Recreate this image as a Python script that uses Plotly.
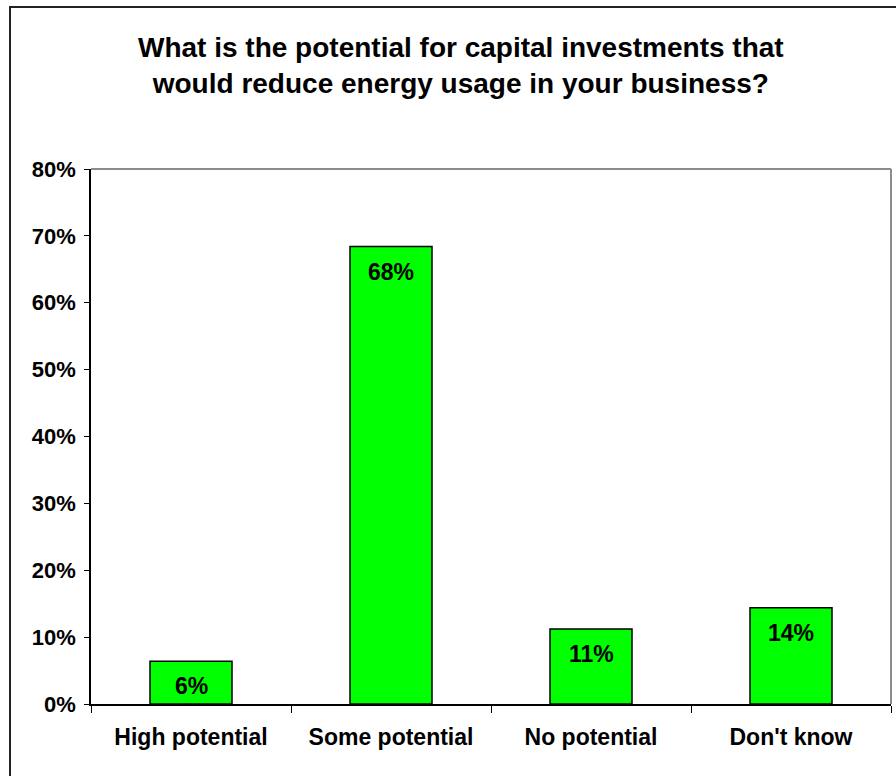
import plotly.graph_objects as go

# Survey responses: share of businesses by perceived potential
categories = ["High potential", "Some potential", "No potential", "Don't know"]
shares = [0.064, 0.684, 0.112, 0.144]
y_ticks = [0, 0.1, 0.2, 0.3, 0.4, 0.5, 0.6, 0.7, 0.8]

W, H = 896, 776
L, R, T, B = 91, 5, 169, 72
plot_w = W - L - R
plot_h = H - T - B


def px_x(p):
    return (p - L) / plot_w


def px_y(p):
    return (H - B - p) / plot_h


FONT = "Liberation Sans, Arial, sans-serif"
TICK_FONT = dict(family=FONT, size=23, color="black", weight="bold")

fig = go.Figure(
    go.Bar(
        x=categories,
        y=shares,
        marker=dict(color="#00FF00", line=dict(color="black", width=1.5)),
        hovertemplate="%{x}: %{y:.0%}<extra></extra>",
    )
)

# Value labels just inside the top of each bar
for cat, val in zip(categories, shares):
    fig.add_annotation(
        x=cat, y=val, xref="x", yref="y",
        text=f"{val:.0%}",
        showarrow=False,
        xanchor="center", yanchor="top",
        yshift=-10,
        font=TICK_FONT,
    )

fig.update_layout(
    width=W,
    height=H,
    margin=dict(l=L, r=R, t=T, b=B),
    paper_bgcolor="white",
    plot_bgcolor="white",
    showlegend=False,
    bargap=0.59,
    font=dict(family=FONT, color="black"),
)

fig.update_xaxes(
    type="category",
    showline=True,
    linecolor="black",
    linewidth=1.5,
    ticks="outside",
    tickson="boundaries",
    ticklen=7,
    tickcolor="black",
    tickwidth=1,
    ticklabelstandoff=12,
    tickfont=TICK_FONT,
    showgrid=False,
)

fig.update_yaxes(
    range=[0, 0.8],
    tickvals=y_ticks,
    tickformat=".0%",
    showline=True,
    linecolor="black",
    linewidth=1.5,
    ticks="outside",
    ticklen=5,
    tickcolor="black",
    tickwidth=1,
    ticklabelstandoff=4,
    tickfont=dict(family=FONT, size=22, color="black", weight="bold"),
    showgrid=False,
    zeroline=False,
)

# Grey frame on the top and right of the plot area
fig.add_shape(type="line", xref="paper", yref="paper", x0=0, x1=1, y0=1, y1=1,
              line=dict(color="#8c8c8c", width=2))
fig.add_shape(type="line", xref="paper", yref="paper", x0=1, x1=1, y0=0, y1=1,
              line=dict(color="#8c8c8c", width=2))

# Outer chart border
fig.add_shape(type="rect", xref="paper", yref="paper",
              x0=px_x(10), x1=px_x(910), y0=px_y(7), y1=px_y(790),
              line=dict(color="#222222", width=2), fillcolor="rgba(0,0,0,0)")

fig.add_annotation(
    xref="paper", yref="paper",
    x=px_x(461), y=px_y(30),
    xanchor="center", yanchor="top",
    text="What is the potential for capital investments that<br>would reduce energy usage in your business?",
    showarrow=False,
    align="center",
    font=dict(family=FONT, size=28, color="black", weight="bold"),
)

fig.write_html("out.html")
